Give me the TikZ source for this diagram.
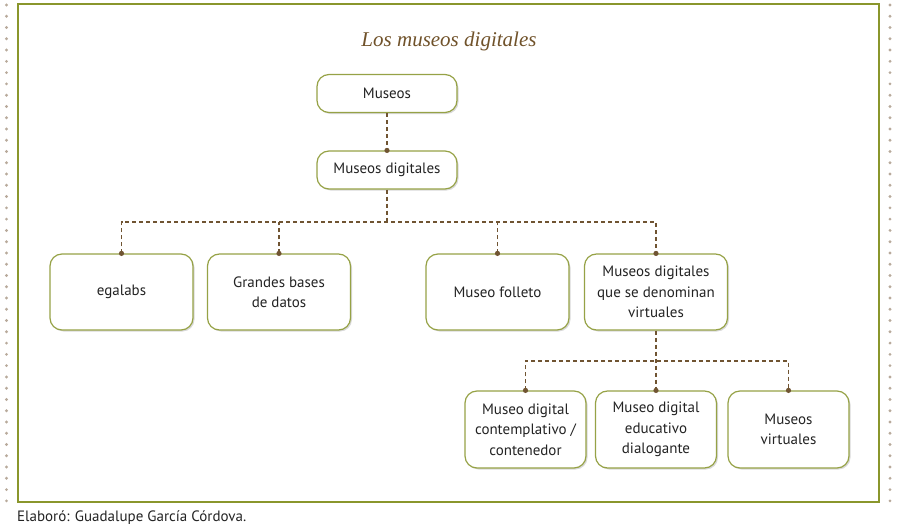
\documentclass[tikz,border=0pt]{standalone}
\usepackage{fontspec}
\setsansfont{PT Sans}
\newfontfamily\titlefont{Liberation Serif}
\usetikzlibrary{shadows}
\definecolor{framegreen}{RGB}{138,150,44}
\definecolor{boxgreen}{RGB}{150,162,70}
\definecolor{linkbrown}{RGB}{112,84,50}
\definecolor{dotgray}{RGB}{184,170,155}
\definecolor{titlebrown}{RGB}{112,82,42}
\definecolor{textgray}{RGB}{35,35,35}
\begin{document}
\begin{tikzpicture}[x=1pt, y=-1pt,
    box/.style={draw=boxgreen, line width=1.2pt, rounded corners=12pt, fill=white,
      drop shadow={shadow xshift=1.5pt, shadow yshift=-1.5pt, opacity=.3},
      minimum width=143pt, minimum height=76pt, align=center, text=textgray,
      font=\sffamily\fontsize{15}{20.5}\selectfont},
    smallbox/.style={box, minimum width=140pt, minimum height=38pt},
    narrowbox/.style={box, minimum width=121pt, minimum height=77pt},
    link/.style={draw=linkbrown, line width=1.4pt, dash pattern=on 4pt off 3pt},
    dot/.style={fill=linkbrown}]
  \useasboundingbox (0,0) rectangle (898,530);
  \draw[framegreen, line width=2pt] (17.5,4) rectangle (879,502);
  \foreach \i in {0,...,44} {
    \fill[dotgray] (6.5,5+11.27*\i) circle (1.6pt);
    \fill[dotgray] (890,5+11.27*\i) circle (1.6pt);
  }
  \node[text=titlebrown, font=\titlefont\itshape\fontsize{21}{24}\selectfont] (titulo) at (449,41) {Los museos digitales};

  \node[smallbox] (museos) at (387,93.5) {Museos};
  \node[smallbox] (digitales) at (387,170) {Museos digitales};
  \node[box] (egalabs) at (121.5,292) {egalabs};
  \node[box] (bases) at (279,292) {Grandes bases\\de datos};
  \node[box] (folleto) at (497.5,292) {Museo folleto};
  \node[box] (virtuales) at (656,292) {Museos digitales\\que se denominan\\virtuales};
  \node[narrowbox] (contemplativo) at (525.5,429.5) {Museo digital\\contemplativo /\\contenedor};
  \node[narrowbox] (educativo) at (656,429.5) {Museo digital\\educativo\\dialogante};
  \node[narrowbox] (mvirtuales) at (788.5,429.5) {Museos\\virtuales};

  \coordinate (bus1) at (387,222);
  \coordinate (bus2) at (656,361);
  \draw[link] (museos) -- (digitales);
  \draw[link] (digitales) -- (bus1);
  \draw[link] (egalabs.north) |- (bus1) -| (virtuales.north);
  \draw[link] (bases.north) -- (bases.north |- bus1);
  \draw[link] (folleto.north) -- (folleto.north |- bus1);
  \draw[link] (virtuales) -- (educativo);
  \draw[link] (contemplativo.north) |- (bus2) -| (mvirtuales.north);

  \foreach \n in {digitales,egalabs,bases,folleto,virtuales,contemplativo,educativo,mvirtuales}
    \fill[dot] (\n.north) circle (2.6pt);

  \node[anchor=west, inner sep=0pt, text=textgray, font=\sffamily\fontsize{15}{18}\selectfont] (elaboro) at (17,518) {Elaboró: Guadalupe García Córdova.};
\end{tikzpicture}
\end{document}
